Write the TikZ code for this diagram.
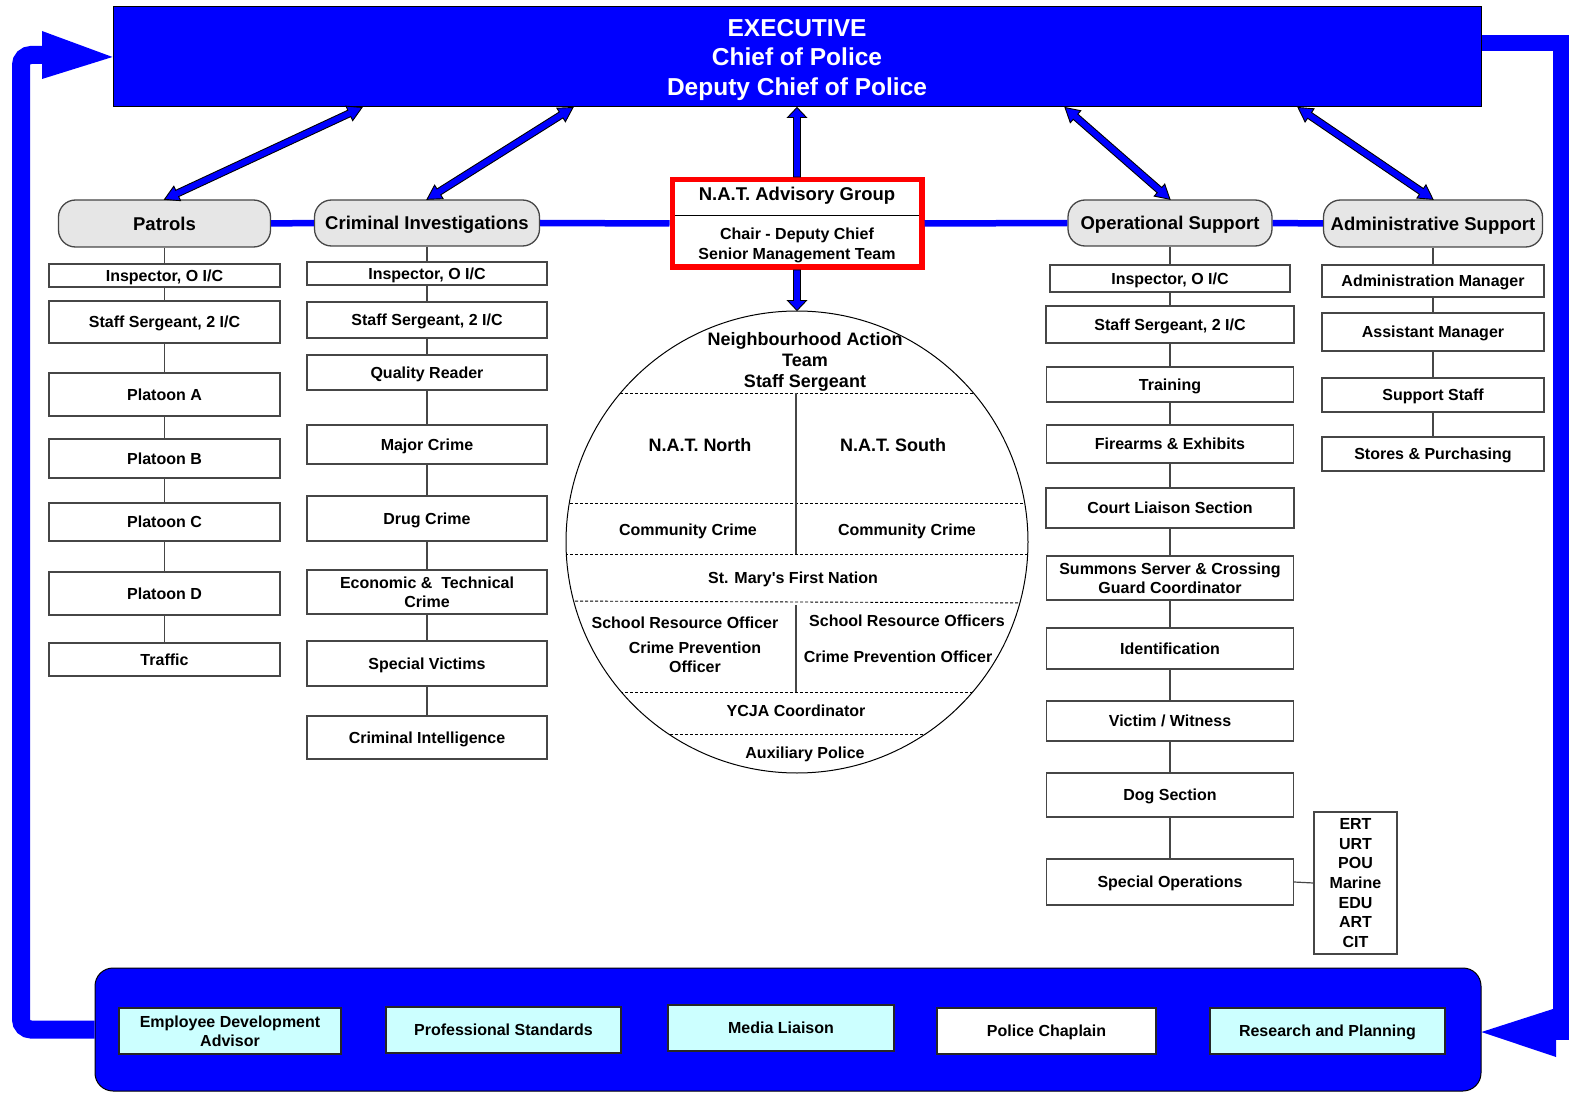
\documentclass[tikz,border=0pt]{standalone}
\usepackage{fontspec}
\setmainfont{Liberation Sans}
\usetikzlibrary{backgrounds,calc}
\definecolor{pblue}{RGB}{0,0,255}
\definecolor{hgray}{RGB}{230,230,230}
\definecolor{lcyan}{RGB}{204,255,255}
\definecolor{bord}{RGB}{70,70,70}
\newcommand\lastl[1]{\raisebox{0pt}[\height][0pt]{#1}}
\tikzset{
 sbox/.style={draw=bord, fill=white, line width=1.3pt, inner sep=0pt, align=center, text depth=0pt, font=\fontsize{16}{19.6}\selectfont\bfseries},
 hdr/.style={draw=bord, fill=hgray, rounded corners=17pt, line width=1.3pt, inner sep=0pt, text depth=0pt, font=\fontsize{18.5}{22}\selectfont\bfseries},
 cyanbox/.style={sbox, draw=black!85, fill=lcyan},
 ctext/.style={inner sep=0pt, align=center, text depth=0pt, font=\fontsize{16}{19.5}\selectfont\bfseries},
 ctextL/.style={inner sep=0pt, align=center, text depth=0pt, font=\fontsize{18}{21}\selectfont\bfseries},
 ml/.style={text depth={}},
 hlink/.style={draw=pblue, line width=6.5pt},
 vlink/.style={draw=bord, line width=1.2pt},
 chord/.style={draw=black, line width=0.9pt, dash pattern=on 3pt off 2pt},
 fb/.style={draw=pblue, line width=18pt},
 fatarrow/.style={draw=black, fill=pblue, line width=0.9pt, line join=miter},
}
\newcommand\fatarrtwo[2]{%
 \pgfpointdiff{\pgfpointanchor{#1}{center}}{\pgfpointanchor{#2}{center}}%
 \pgfgetlastxy{\fadx}{\fady}%
 \pgfmathsetmacro\faang{atan2(\fady,\fadx)}%
 \pgfmathsetmacro\falen{veclen(\fadx,\fady)}%
 \draw[fatarrow, shift={(#1)}, rotate=\faang] (0pt,0pt) -- (14pt,8pt) -- (14pt,3.5pt) -- ({\falen pt-14pt},3.5pt) -- ({\falen pt-14pt},8pt) -- ({\falen pt},0pt) -- ({\falen pt-14pt},-8pt) -- ({\falen pt-14pt},-3.5pt) -- (14pt,-3.5pt) -- (14pt,-8pt) -- cycle;
}
\newcommand\fatarrone[2]{%
 \pgfpointdiff{\pgfpointanchor{#1}{center}}{\pgfpointanchor{#2}{center}}%
 \pgfgetlastxy{\fadx}{\fady}%
 \pgfmathsetmacro\faang{atan2(\fady,\fadx)}%
 \pgfmathsetmacro\falen{veclen(\fadx,\fady)}%
 \draw[fatarrow, shift={(#1)}, rotate=\faang] (0pt,3.5pt) -- ({\falen pt-10pt},3.5pt) -- ({\falen pt-10pt},9.5pt) -- ({\falen pt},0pt) -- ({\falen pt-10pt},-9.5pt) -- ({\falen pt-10pt},-3.5pt) -- (0pt,-3.5pt) -- cycle;
}
\begin{document}
\begin{tikzpicture}[x=1pt,y=-1pt]
\useasboundingbox (0,0) rectangle (1572,1094);

% executive
\node[draw=black, fill=pblue, line width=1pt, minimum width=1368pt, minimum height=100pt, inner sep=0pt, align=center, text=white, font=\fontsize{24.5}{29.5}\selectfont\bfseries] (exec) at (797,57) {EXECUTIVE\\Chief of Police\\\lastl{Deputy Chief of Police}};

% bottom bar
\node[draw=black, fill=pblue, rounded corners=18pt, minimum width=1386pt, minimum height=123pt, line width=1pt, inner sep=0pt] (bar) at (788,1029.5) {};

% feedback loops
\draw[fb, rounded corners=10pt] (bar.west) -| (21,55) -- (48,55);
\fill[pblue] (42,31) -- (exec.west) -- (42,79) -- cycle;
\draw[fb, line width=16pt] ([yshift=14pt]exec.east) -| (1561,1032) -- (1550,1032);
\fill[pblue] (1556,1008) -- ([yshift=-2.5pt]bar.east) -- (1556,1057) -- cycle;

% headers
\node[hdr, minimum width=212pt, minimum height=47pt] (pat) at (164.5,223.5) {Patrols};
\node[hdr, minimum width=225pt, minimum height=46pt] (cri) at (427,223) {Criminal Investigations};
\node[hdr, minimum width=204pt, minimum height=46pt] (ops) at (1170,223) {Operational Support};
\node[hdr, minimum width=219pt, minimum height=47pt] (adm) at (1433,223.5) {Administrative Support};

% NAT advisory box
\node[draw=red, line width=5.5pt, fill=white, minimum width=249.5pt, minimum height=87.5pt, inner sep=0pt] (adv) at (797,223.5) {};
\draw[line width=0.9pt] ($(adv.west)+(5.5,-8.5)$) -- ($(adv.east)+(-5.5,-8.5)$);
\node[inner sep=0pt, text depth=0pt, font=\fontsize{18.5}{22}\selectfont\bfseries] (advt) at (797,194) {N.A.T. Advisory Group};
\node[ctext, ml] (advs) at (797,243.5) {Chair - Deputy Chief\\\lastl{Senior Management Team}};

% blue horizontal links
\draw[hlink] (pat.east) -- (cri.west);
\draw[hlink] (cri.east) -- (adv.west);
\draw[hlink] (adv.east) -- (ops.west);
\draw[hlink] (ops.east) -- (adm.west);

% Patrols column
\node[sbox, minimum width=231pt, minimum height=23pt] (p1) at (164.5,275.5) {Inspector, O I/C};
\node[sbox, minimum width=231pt, minimum height=42pt] (p2) at (164.5,322) {Staff Sergeant, 2 I/C};
\node[sbox, minimum width=231pt, minimum height=43pt] (p3) at (164.5,394.5) {Platoon A};
\node[sbox, minimum width=231pt, minimum height=39pt] (p4) at (164.5,458.5) {Platoon B};
\node[sbox, minimum width=231pt, minimum height=38pt] (p5) at (164.5,522) {Platoon C};
\node[sbox, minimum width=231pt, minimum height=43pt] (p6) at (164.5,593.5) {Platoon D};
\node[sbox, minimum width=231pt, minimum height=33pt] (p7) at (164.5,659.5) {Traffic};

% Criminal column
\node[sbox, minimum width=240pt, minimum height=23pt] (c1) at (427,273.5) {Inspector, O I/C};
\node[sbox, minimum width=240pt, minimum height=36pt] (c2) at (427,320) {Staff Sergeant, 2 I/C};
\node[sbox, minimum width=240pt, minimum height=35pt] (c3) at (427,372.5) {Quality Reader};
\node[sbox, minimum width=240pt, minimum height=39pt] (c4) at (427,444.5) {Major Crime};
\node[sbox, minimum width=240pt, minimum height=45pt] (c5) at (427,518.5) {Drug Crime};
\node[sbox, ml, minimum width=240pt, minimum height=44pt] (c6) at (427,592) {Economic \&\ \ Technical\\\lastl{Crime}};
\node[sbox, minimum width=240pt, minimum height=45pt] (c7) at (427,663.5) {Special Victims};
\node[sbox, minimum width=240pt, minimum height=43pt] (c8) at (427,737.5) {Criminal Intelligence};

% Operational column
\node[sbox, minimum width=240pt, minimum height=27pt] (o1) at (1170,278.5) {Inspector, O I/C};
\node[sbox, minimum width=248pt, minimum height=37pt] (o2) at (1170,324.5) {Staff Sergeant, 2 I/C};
\node[sbox, minimum width=247pt, minimum height=35pt] (o3) at (1170,384.5) {Training};
\node[sbox, minimum width=247pt, minimum height=38pt] (o4) at (1170,444) {Firearms \& Exhibits};
\node[sbox, minimum width=248pt, minimum height=40pt] (o5) at (1170,508) {Court Liaison Section};
\node[sbox, ml, minimum width=247pt, minimum height=44pt] (o6) at (1170,578) {Summons Server \& Crossing\\\lastl{Guard Coordinator}};
\node[sbox, minimum width=247pt, minimum height=41pt] (o7) at (1170,648.5) {Identification};
\node[sbox, minimum width=247pt, minimum height=40pt] (o8) at (1170,721) {Victim / Witness};
\node[sbox, minimum width=247pt, minimum height=44pt] (o9) at (1170,795) {Dog Section};
\node[sbox, minimum width=247pt, minimum height=46pt] (o10) at (1170,882) {Special Operations};
\node[sbox, ml, minimum width=83pt, minimum height=142pt] (spl) at (1355.5,883) {ERT\\URT\\POU\\Marine\\EDU\\ART\\\lastl{CIT}};

% Administrative column
\node[sbox, minimum width=222pt, minimum height=32pt] (a1) at (1433,281) {Administration Manager};
\node[sbox, minimum width=222pt, minimum height=38pt] (a2) at (1433,332) {Assistant Manager};
\node[sbox, minimum width=222pt, minimum height=34pt] (a3) at (1433,395) {Support Staff};
\node[sbox, minimum width=222pt, minimum height=34pt] (a4) at (1433,454) {Stores \& Purchasing};

\begin{scope}[on background layer]
\draw[vlink] (pat.south) -- (p7.north);
\draw[vlink] (cri.south) -- (c8.north);
\draw[vlink] (ops.south) -- (o10.north);
\draw[vlink] (adm.south) -- (a4.north);
\end{scope}
\draw[vlink] (o10.east) -- (spl.west);

% NAT circle
\begin{scope}
\clip (797,542) circle (231pt);
\draw[chord] (560,393) -- (1040,393);
\draw[chord] (560,503) -- (1040,503);
\draw[chord] (560,554) -- (1040,554);
\draw[chord] (560,601) -- (1040,603);
\draw[chord] (560,692) -- (1040,692);
\draw[chord] (560,734) -- (1040,734);
\end{scope}
\node[circle, draw=black, line width=1pt, minimum size=462pt, inner sep=0pt] (nat) at (797,542) {};
\draw[vlink] (796,393) -- (796,554);
\draw[vlink] (796,605) -- (796,692);
\node[ctextL, ml] (natH) at (805,360) {Neighbourhood Action\\Team\\\lastl{Staff Sergeant}};
\node[ctextL] (natN) at (700,445) {N.A.T. North};
\node[ctextL] (natS) at (893,445) {N.A.T. South};
\node[ctext] (cc1) at (688,530) {Community Crime};
\node[ctext] (cc2) at (907,530) {Community Crime};
\node[ctext] (smf) at (793,578) {St. Mary\textquotesingle s First Nation};
\node[ctext] (sro1) at (685,623) {School Resource Officer};
\node[ctext, ml] (cpo1) at (695,657) {Crime Prevention\\\lastl{Officer}};
\node[ctext] (sro2) at (907,621) {School Resource Officers};
\node[ctext] (cpo2) at (898,657) {Crime Prevention Officer};
\node[ctext] (ycja) at (796,711) {YCJA Coordinator};
\node[ctext] (aux) at (805,753) {Auxiliary Police};

% bottom boxes
\node[cyanbox, ml, minimum width=222pt, minimum height=46pt] (b1) at (230,1031) {Employee Development\\\lastl{Advisor}};
\node[cyanbox, minimum width=235pt, minimum height=46pt] (b2) at (503.5,1030) {Professional Standards};
\node[cyanbox, minimum width=226pt, minimum height=46pt] (b3) at (781,1028) {Media Liaison};
\node[cyanbox, fill=white, minimum width=219pt, minimum height=46pt] (b4) at (1046.5,1031) {Police Chaplain};
\node[cyanbox, minimum width=235pt, minimum height=46pt] (b5) at (1327.5,1031) {Research and Planning};

% arrows
\coordinate (e1) at (362,107.5);
\coordinate (e2) at (573,107.5);
\coordinate (e3) at (1065,107.5);
\coordinate (e4) at (1298,107.5);
\coordinate (t1) at (pat.north);
\coordinate (t2) at (cri.north);
\coordinate (t3) at (ops.north);
\coordinate (t4) at (adm.north);
\fatarrtwo{e1}{t1}
\fatarrtwo{e2}{t2}
\fatarrtwo{e3}{t3}
\fatarrtwo{e4}{t4}
\coordinate (advtop) at (adv.north);
\coordinate (advbot) at (adv.south);
\coordinate (exbot) at (exec.south);
\coordinate (nattop) at (nat.north);
\fatarrone{advtop}{exbot}
\fatarrone{advbot}{nattop}
\end{tikzpicture}
\end{document}
